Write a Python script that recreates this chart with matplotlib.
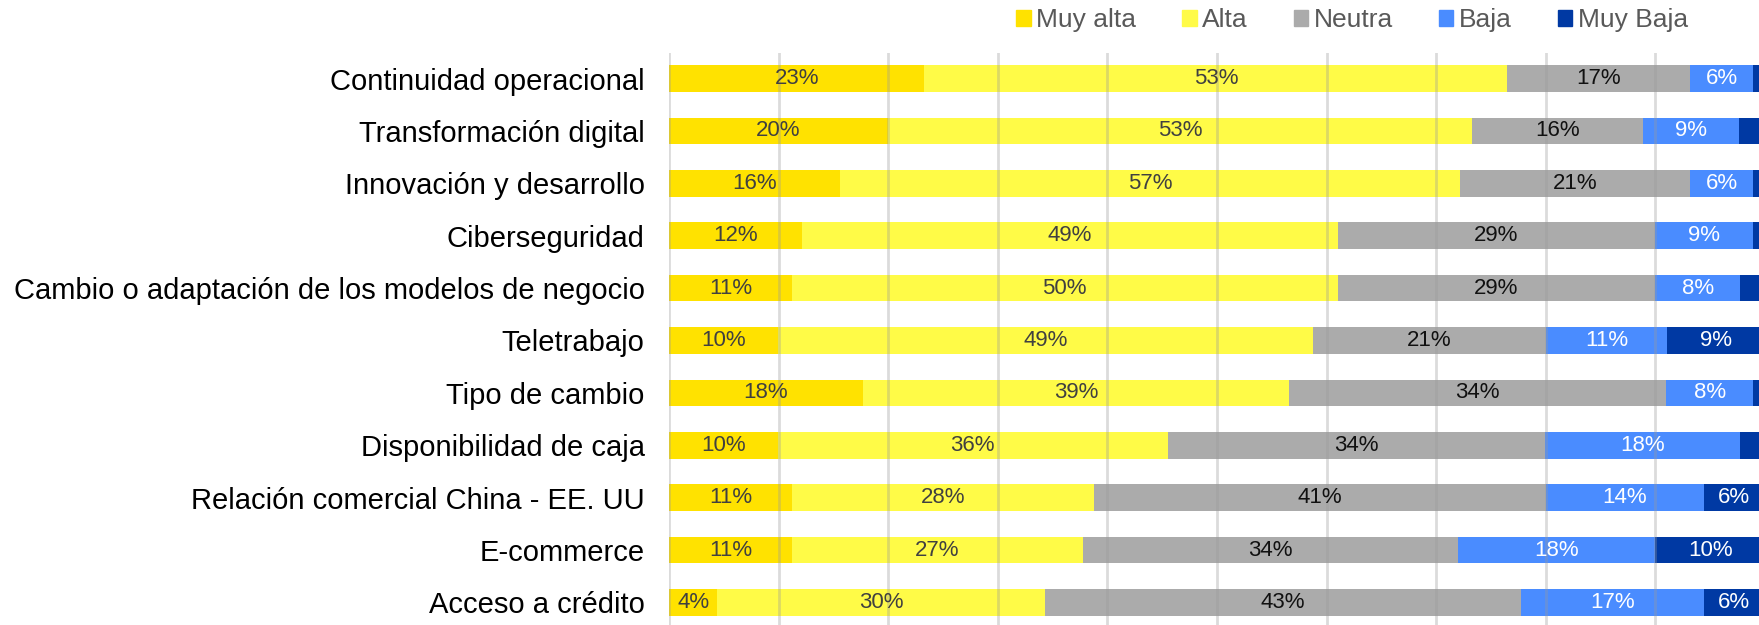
import numpy as np
import matplotlib.pyplot as plt
from matplotlib.patches import Patch

plt.rcParams['font.family'] = ['Liberation Sans', 'DejaVu Sans']

categories = ["Continuidad operacional", "Transformación digital", "Innovación y desarrollo",
              "Ciberseguridad", "Cambio o adaptación de los modelos de negocio", "Teletrabajo",
              "Tipo de cambio", "Disponibilidad de caja", "Relación comercial China - EE. UU",
              "E-commerce", "Acceso a crédito"]

# shares in % (labels are the rounded values)
muy_alta = [23.3, 20.0, 15.6, 12.1, 11.2, 9.9, 17.7, 9.9, 11.2, 11.2, 4.4]
alta = [53.2, 53.3, 56.6, 48.9, 49.8, 48.9, 38.9, 35.6, 27.6, 26.6, 29.9]
neutra = [16.7, 15.6, 21.0, 29.0, 29.0, 21.2, 34.4, 34.4, 41.2, 34.2, 43.4]
baja = [5.7, 8.7, 5.7, 8.9, 7.7, 11.1, 7.9, 17.8, 14.4, 18.0, 16.7]
muy_baja = [1.1, 2.4, 1.1, 1.1, 2.3, 8.9, 1.1, 2.3, 5.6, 10.0, 5.6]

series = [("Muy alta", muy_alta, "#FFE200", "#404040"),
          ("Alta", alta, "#FFFB47", "#404040"),
          ("Neutra", neutra, "#ABABAB", "#111111"),
          ("Baja", baja, "#4A8CFF", "white"),
          ("Muy Baja", muy_baja, "#0039A3", "white")]

fig = plt.figure(figsize=(17.59, 6.25), dpi=100)
ax = fig.add_axes([669/1759, 0, 1096/1759, 1 - 53/625])

y = np.arange(len(categories))
left = np.zeros(len(categories))
for name, vals, col, tcol in series:
    vals = np.array(vals, dtype=float)
    ax.barh(y, vals, left=left, height=0.506, color=col, label=name, zorder=1)
    for yi, l, v in zip(y, left, vals):
        if v >= 3:
            ax.text(l + v / 2, yi, f"{v:.0f}%", ha='center', va='center',
                    fontsize=16, color=tcol, zorder=3)
    left += vals

ax.set_xlim(0, 100)
ax.set_ylim(10.43, -0.487)
ax.set_yticks(y)
ax.set_yticklabels(categories, fontsize=21, color='black')
ax.tick_params(axis='y', length=0, pad=17.5)
ax.tick_params(axis='x', length=0, labelbottom=False)
ax.set_xticks(np.arange(0, 101, 10))
ax.grid(axis='x', color='#9a9a9a', alpha=0.35, linewidth=2, zorder=2)
ax.set_axisbelow(False)
for s in ax.spines.values():
    s.set_visible(False)

handles = [Patch(color=c, label=n) for n, _, c, _ in series]
fig.legend(handles=handles, loc='center', bbox_to_anchor=(0.7686, 0.968), ncol=5,
           frameon=False, fontsize=19, handlelength=0.55, handleheight=0.55,
           handletextpad=0.2, columnspacing=1.75, labelcolor='#595959')

fig.savefig("out.png", dpi=100)
